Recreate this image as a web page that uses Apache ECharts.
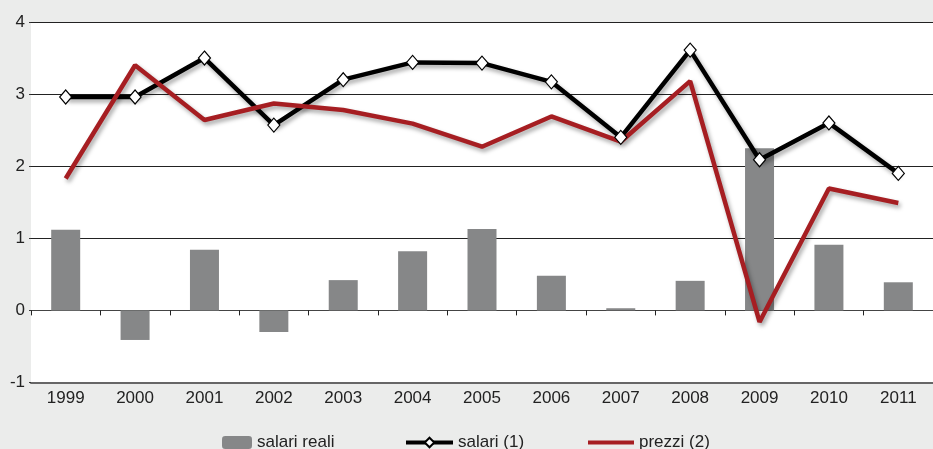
<!DOCTYPE html>
<html>
<head>
<meta charset="utf-8">
<script src="https://cdn.jsdelivr.net/npm/echarts@6/dist/echarts.min.js"></script>
<style>
  html, body { margin: 0; padding: 0; background: #ebeceb; }
  #chart { width: 933px; height: 449px; }
</style>
</head>
<body>
<div id="chart"></div>
<script>
// dati
const anni = ['1999', '2000', '2001', '2002', '2003', '2004', '2005', '2006', '2007', '2008', '2009', '2010', '2011'];
const salariReali = [1.12, -0.41, 0.84, -0.30, 0.42, 0.82, 1.13, 0.48, 0.03, 0.41, 2.25, 0.91, 0.39];
const salari = [2.96, 2.96, 3.50, 2.57, 3.20, 3.44, 3.43, 3.17, 2.40, 3.61, 2.09, 2.60, 1.90];
const prezzi = [1.83, 3.40, 2.64, 2.87, 2.78, 2.59, 2.27, 2.69, 2.34, 3.18, -0.16, 1.69, 1.49];
const yTicks = [-1, 0, 1, 2, 3, 4];

const FONT = '"Liberation Sans", Arial, sans-serif';

document.addEventListener('DOMContentLoaded', function() {
    const chart = echarts.init(document.getElementById('chart'));

    const shadow = {
        shadowColor: 'rgba(0,0,0,0.35)',
        shadowBlur: 4,
        shadowOffsetX: 2,
        shadowOffsetY: 3
    };

    const legendText = { fontFamily: FONT, fontSize: 17, color: '#222' };

    const option = {
        backgroundColor: '#ebeceb',
        animation: false,
        grid: {
            left: 31, top: 22, width: 915, height: 360.5,
            show: true, backgroundColor: '#ffffff', borderWidth: 0
        },
        legend: [
            {
                data: ['salari reali'], left: 217, top: 429,
                itemWidth: 30, itemHeight: 13, itemGap: 6, textStyle: legendText
            },
            {
                data: ['salari (1)'], left: 399, top: 429,
                itemWidth: 47, itemHeight: 12, itemGap: 2, textStyle: legendText,
                lineStyle: { width: 4 }
            },
            {
                data: [{ name: 'prezzi (2)', icon: 'rect' }], left: 583, top: 429,
                itemWidth: 46, itemHeight: 4, textStyle: legendText
            }
        ],
        xAxis: [
            {
                type: 'category',
                data: anni,
                position: 'bottom',
                axisLine: { onZero: false, lineStyle: { color: '#666', width: 2 } },
                axisTick: { show: false },
                axisLabel: { fontFamily: FONT, fontSize: 17, color: '#222', margin: 7 }
            },
            {
                type: 'category',
                data: anni,
                position: 'bottom',
                axisLine: { onZero: true, lineStyle: { color: '#444', width: 1 } },
                axisTick: { show: true, length: 5, lineStyle: { color: '#222' } },
                axisLabel: { show: false }
            }
        ],
        yAxis: {
            type: 'value',
            min: yTicks[0],
            max: yTicks[yTicks.length - 1],
            interval: 1,
            axisLine: { show: false },
            axisTick: { show: true, length: 2, lineStyle: { color: '#333' } },
            axisLabel: { fontFamily: FONT, fontSize: 17, color: '#222', margin: 6 },
            splitLine: { lineStyle: { color: '#222', width: 1 } }
        },
        series: [
            {
                name: 'salari reali',
                type: 'bar',
                data: salariReali,
                barWidth: 29,
                itemStyle: { color: '#868788' }
            },
            {
                name: 'salari (1)',
                type: 'line',
                data: salari,
                symbol: 'diamond',
                symbolSize: [12, 14],
                itemStyle: { color: '#ffffff', borderColor: '#000', borderWidth: 1.2 },
                lineStyle: Object.assign({ color: '#000', width: 4.5 }, shadow)
            },
            {
                name: 'prezzi (2)',
                type: 'line',
                data: prezzi,
                symbol: 'none',
                itemStyle: { color: '#a61e22' },
                lineStyle: Object.assign({ color: '#a61e22', width: 4.5 }, shadow)
            }
        ]
    };
    chart.setOption(option);
});
</script>
</body>
</html>
